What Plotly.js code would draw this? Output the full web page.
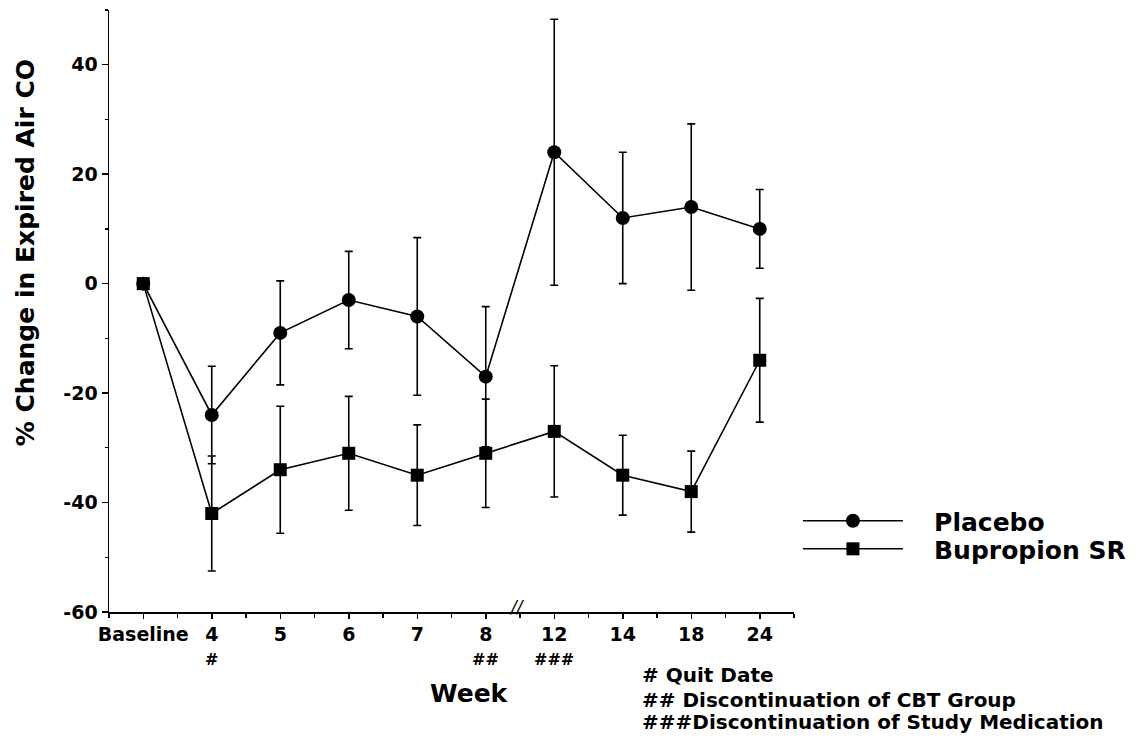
<!DOCTYPE html>
<html>
<head>
<meta charset="utf-8">
<script src="https://cdn.plot.ly/plotly-3.0.1.min.js"></script>
<style>html,body{margin:0;padding:0;background:#fff;}#chart{width:1137px;height:738px;}</style>
</head>
<body>
<div id="chart"></div>
<script>
// ---- data ----
var weekLabels = ["Baseline", "4", "5", "6", "7", "8", "12", "14", "18", "24"];
var placeboMean = [0, -24, -9, -3, -6, -17, 24, 12, 14, 10];
var placeboErr  = [null, 8.9, 9.5, 8.9, 14.4, 12.8, 24.3, 12, 15.2, 7.2];
var bupropionMean = [0, -42, -34, -31, -35, -31, -27, -35, -38, -14];
var bupropionErr  = [null, 10.5, 11.6, 10.4, 9.2, 9.9, 12, 7.3, 7.4, 11.3];
var yTickVals = [-60, -40, -20, 0, 20, 40];
var yTickText = ["-60", "-40", "-20", "0", "20", "40"];
var markLabels = ["#", "##", "###"];
var markWeeks = ["4", "8", "12"];
var footnotes = ["# Quit Date", "## Discontinuation of CBT Group", "###Discontinuation of Study Medication"];

var xIdx = weekLabels.map(function (c, i) { return i; });
var FAM = "DejaVu Sans, Verdana, sans-serif";
var PAD = "\u00a0\u00a0\u00a0";

var placebo = {
  x: xIdx, y: placeboMean, type: "scatter", mode: "lines+markers",
  name: PAD + "Placebo",
  line: {color: "#000", width: 1.6},
  marker: {symbol: "circle", size: 14, color: "#000"},
  error_y: {type: "data", array: placeboErr, symmetric: true, color: "#000", thickness: 1.6, width: 4},
  legend: "legend"
};
var bupropion = {
  x: xIdx, y: bupropionMean, type: "scatter", mode: "lines+markers",
  name: PAD + "Bupropion SR",
  line: {color: "#000", width: 1.6},
  marker: {symbol: "square", size: 13, color: "#000"},
  error_y: {type: "data", array: bupropionErr, symmetric: true, color: "#000", thickness: 1.6, width: 4},
  legend: "legend2"
};

var annotations = [];
annotations.push({
  text: "% Change in Expired Air CO", xref: "paper", yref: "paper",
  x: -0.1226, y: 0.596, textangle: -90, showarrow: false,
  xanchor: "center", yanchor: "middle",
  font: {family: FAM, size: 25, weight: "bold", color: "#000"}
});
annotations.push({
  text: "Week", xref: "paper", yref: "paper", x: 0.527, y: -0.1346,
  showarrow: false, xanchor: "center", yanchor: "middle",
  font: {family: FAM, size: 25, weight: "bold", color: "#000"}
});
markLabels.forEach(function (t, i) {
  annotations.push({
    text: t, xref: "x", yref: "paper", x: weekLabels.indexOf(markWeeks[i]), y: -0.079,
    showarrow: false, xanchor: "center", yanchor: "middle",
    font: {family: FAM, size: 16, weight: "bold", color: "#000"}
  });
});
var footY = [-0.1047, -0.1462, -0.1827];
footnotes.forEach(function (t, i) {
  annotations.push({
    text: t, xref: "paper", yref: "paper", x: 0.775, y: footY[i],
    showarrow: false, xanchor: "left", yanchor: "middle",
    font: {family: FAM, size: 20, weight: "bold", color: "#000"}
  });
});
annotations.push({
  text: "//", xref: "x", yref: "paper", x: 5.45, y: 0.008,
  showarrow: false, xanchor: "center", yanchor: "middle",
  font: {family: FAM, size: 17, style: "italic", color: "#000"}
});

var legendCommon = {
  xref: "container", yref: "container",
  xanchor: "left", yanchor: "middle", itemwidth: 100,
  bgcolor: "rgba(0,0,0,0)", borderwidth: 0,
  font: {family: FAM, size: 25, weight: "bold", color: "#000"}
};
var layout = {
  width: 1137, height: 738,
  margin: {l: 109, r: 343, t: 10, b: 126, pad: 0},
  paper_bgcolor: "#fff", plot_bgcolor: "#fff",
  showlegend: true,
  legend: Object.assign({x: 0.7018, y: 0.294}, legendCommon),
  legend2: Object.assign({x: 0.7018, y: 0.256}, legendCommon),
  xaxis: {
    range: [-0.5, 9.5], tickmode: "array", tickvals: xIdx, ticktext: weekLabels,
    showline: true, linecolor: "#000", linewidth: 1.5, mirror: false,
    ticks: "outside", ticklen: 5, tickwidth: 1.5, tickcolor: "#000",
    minor: {dtick: 0.5, tick0: 0, ticks: "outside", ticklen: 4, tickwidth: 1.2, tickcolor: "#000"},
    showgrid: false, zeroline: false,
    tickfont: {family: FAM, size: 19, weight: "bold", color: "#000"}
  },
  yaxis: {
    range: [-60, 50], tickmode: "array", tickvals: yTickVals, ticktext: yTickText,
    showline: true, linecolor: "#000", linewidth: 1.5,
    ticks: "outside", ticklen: 6, tickwidth: 1.5, tickcolor: "#000",
    minor: {dtick: 10, tick0: 0, ticks: "outside", ticklen: 3, tickwidth: 1.2, tickcolor: "#000"},
    showgrid: false, zeroline: false,
    tickfont: {family: FAM, size: 19, weight: "bold", color: "#000"}
  },
  annotations: annotations
};

Plotly.newPlot("chart", [placebo, bupropion], layout, {displayModeBar: false, staticPlot: true});
</script>
</body>
</html>
